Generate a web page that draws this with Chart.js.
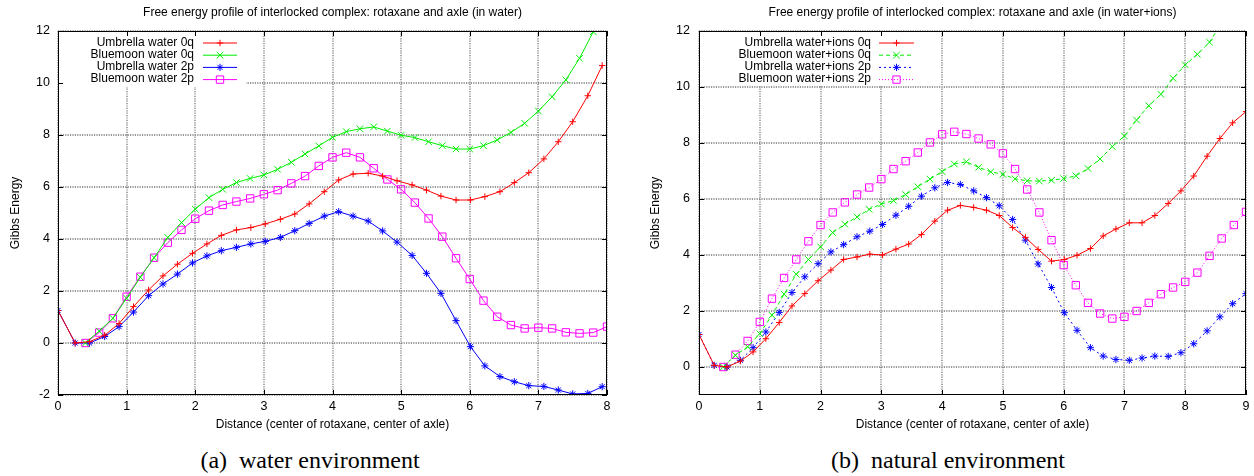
<!DOCTYPE html>
<html>
<head>
<meta charset="utf-8">
<script src="https://cdn.jsdelivr.net/npm/chart.js@4.4.1/dist/chart.umd.min.js"></script>
<style>
  html, body { margin: 0; padding: 0; background: #fff; }
  body { width: 1254px; height: 476px; position: relative; overflow: hidden; }
  canvas { position: absolute; top: 0; }
  #chart-water { left: 0; }
  #chart-ions { left: 620px; }
  .caption {
    position: absolute; top: 447px; transform: translateX(-50%); line-height: 26px;
    font-family: "Liberation Serif", "Times New Roman", serif; font-size: 24px; white-space: pre;
  }
</style>
</head>
<body>
<canvas id="chart-water" width="620" height="440"></canvas>
<canvas id="chart-ions" width="634" height="440"></canvas>
<div class="caption" style="left:310px">(a)  water environment</div>
<div class="caption" style="left:948px">(b)  natural environment</div>
<script>
// ---- data: water (left panel) ----
const waterUmbrellaX = [0, 0.25, 0.46, 0.68, 0.89, 1.10, 1.32, 1.53, 1.74, 1.96, 2.17, 2.38, 2.60, 2.81,
  3.02, 3.24, 3.45, 3.66, 3.88, 4.09, 4.30, 4.52, 4.73, 4.94, 5.16, 5.37, 5.58, 5.80, 6.01, 6.22, 6.44,
  6.65, 6.86, 7.08, 7.29, 7.50, 7.72, 7.93];
const waterBluemoonX = [0.4, 0.6, 0.8, 1.0, 1.2, 1.4, 1.6, 1.8, 2.0, 2.2, 2.4, 2.6, 2.8, 3.0, 3.2, 3.4,
  3.6, 3.8, 4.0, 4.2, 4.4, 4.6, 4.8, 5.0, 5.2, 5.4, 5.6, 5.8, 6.0, 6.2, 6.4, 6.6, 6.8, 7.0, 7.2, 7.4,
  7.6, 7.8, 8.0];
const umbrellaWater0q = [1.25, 0, 0.05, 0.3, 0.75, 1.4, 2.04, 2.58, 3.03, 3.45, 3.81, 4.14, 4.35, 4.44,
  4.58, 4.76, 4.96, 5.35, 5.82, 6.27, 6.5, 6.53, 6.42, 6.24, 6.08, 5.88, 5.65, 5.5, 5.5, 5.63, 5.82,
  6.17, 6.55, 7.08, 7.74, 8.51, 9.51, 10.67];
const bluemoonWater0q = [0, 0.46, 0.95, 1.72, 2.53, 3.28, 4.06, 4.63, 5.15, 5.59, 5.91, 6.17, 6.33, 6.46,
  6.68, 6.95, 7.27, 7.58, 7.91, 8.13, 8.24, 8.31, 8.15, 7.99, 7.9, 7.74, 7.59, 7.46, 7.46, 7.59, 7.81,
  8.1, 8.45, 8.92, 9.47, 10.12, 10.95, 11.97, 13.1];
const umbrellaWater2p = [1.25, 0, 0, 0.25, 0.63, 1.19, 1.82, 2.27, 2.65, 3.08, 3.35, 3.55, 3.68, 3.81,
  3.91, 4.06, 4.32, 4.6, 4.88, 5.05, 4.88, 4.69, 4.31, 3.88, 3.37, 2.68, 1.91, 0.86, -0.14, -0.88, -1.29,
  -1.49, -1.64, -1.67, -1.81, -1.96, -1.94, -1.68];
const bluemoonWater2p = [0, 0.4, 0.95, 1.78, 2.55, 3.28, 3.86, 4.35, 4.78, 5.09, 5.31, 5.44, 5.56, 5.72,
  5.88, 6.14, 6.42, 6.81, 7.14, 7.32, 7.14, 6.72, 6.29, 5.91, 5.4, 4.79, 4.09, 3.26, 2.46, 1.63, 1.01,
  0.69, 0.56, 0.59, 0.56, 0.41, 0.37, 0.4, 0.63];

// ---- data: water+ions (right panel) ----
const ionsUmbrellaX = [0, 0.25, 0.46, 0.68, 0.89, 1.10, 1.32, 1.53, 1.74, 1.96, 2.17, 2.38, 2.60, 2.81,
  3.02, 3.24, 3.45, 3.66, 3.88, 4.09, 4.30, 4.52, 4.73, 4.94, 5.16, 5.37, 5.58, 5.80, 6.01, 6.22, 6.44,
  6.65, 6.86, 7.08, 7.29, 7.50, 7.72, 7.93, 8.14, 8.36, 8.57, 8.78, 9.00];
const ionsBluemoonX = [0.4, 0.6, 0.8, 1.0, 1.2, 1.4, 1.6, 1.8, 2.0, 2.2, 2.4, 2.6, 2.8, 3.0, 3.2, 3.4,
  3.6, 3.8, 4.0, 4.2, 4.4, 4.6, 4.8, 5.0, 5.2, 5.4, 5.6, 5.8, 6.0, 6.2, 6.4, 6.6, 6.8, 7.0, 7.2, 7.4,
  7.6, 7.8, 8.0, 8.2, 8.4, 8.6, 8.8, 9.0];
const umbrellaIons0q = [1.16, 0.06, 0, 0.21, 0.54, 1.01, 1.59, 2.18, 2.62, 3.08, 3.46, 3.84, 3.93, 4.03,
  4.0, 4.21, 4.39, 4.73, 5.21, 5.6, 5.77, 5.7, 5.6, 5.41, 4.98, 4.63, 4.2, 3.78, 3.84, 3.99, 4.23, 4.68,
  4.93, 5.15, 5.15, 5.41, 5.84, 6.29, 6.82, 7.53, 8.16, 8.72, 9.12];
const bluemoonIons0q = [0, 0.42, 0.72, 1.19, 1.85, 2.6, 3.31, 3.84, 4.29, 4.8, 5.1, 5.36, 5.63, 5.82,
  5.94, 6.16, 6.44, 6.71, 6.98, 7.25, 7.33, 7.13, 6.97, 6.88, 6.72, 6.65, 6.64, 6.67, 6.73, 6.83, 7.09,
  7.43, 7.87, 8.25, 8.82, 9.33, 9.74, 10.31, 10.79, 11.17, 11.6, 12.3];
const umbrellaIons2p = [1.16, 0.06, 0, 0.24, 0.69, 1.25, 1.95, 2.66, 3.22, 3.69, 4.11, 4.37, 4.65, 4.85,
  5.09, 5.42, 5.74, 6.1, 6.4, 6.59, 6.52, 6.29, 6.05, 5.76, 5.27, 4.53, 3.68, 2.84, 1.94, 1.31, 0.69,
  0.39, 0.27, 0.24, 0.32, 0.39, 0.38, 0.51, 0.83, 1.29, 1.79, 2.26, 2.62];
const bluemoonIons2p = [0, 0.44, 0.93, 1.61, 2.44, 3.18, 3.84, 4.49, 5.07, 5.52, 5.88, 6.16, 6.41, 6.71,
  7.07, 7.35, 7.66, 8.02, 8.31, 8.4, 8.32, 8.16, 7.95, 7.63, 7.07, 6.34, 5.52, 4.53, 3.64, 2.92, 2.29,
  1.91, 1.73, 1.79, 2.0, 2.29, 2.6, 2.84, 3.04, 3.37, 3.97, 4.59, 5.07, 5.54];

// ---- ticks / labels ----
const waterXTicks = [0, 1, 2, 3, 4, 5, 6, 7, 8];
const waterYTicks = [-2, 0, 2, 4, 6, 8, 10, 12];
const ionsXTicks = [0, 1, 2, 3, 4, 5, 6, 7, 8, 9];
const ionsYTicks = [0, 2, 4, 6, 8, 10, 12];
const waterLabels = ["Umbrella water 0q", "Bluemoon water 0q", "Umbrella water 2p", "Bluemoon water 2p"];
const ionsLabels = ["Umbrella water+ions 0q", "Bluemoon water+ions 0q", "Umbrella water+ions 2p", "Bluemoon water+ions 2p"];

const FONT = '"Liberation Sans", Arial, Helvetica, sans-serif';
Chart.defaults.font.family = FONT;
Chart.defaults.color = "#000";

function pairs(xs, ys) {
  return ys.map((y, i) => ({ x: xs[i], y: y }));
}

// gnuplot-ish series looks: + , x , * , open square
const looks = [
  { color: "#ff0000", pointStyle: "cross", radius: 3.2 },
  { color: "#00ee00", pointStyle: "crossRot", radius: 4.6 },
  { color: "#0000ff", pointStyle: "star", radius: 3.6 },
  { color: "#ff00ff", pointStyle: "rect", radius: 5.2 },
];

function series(label, points, i, dash) {
  const l = looks[i];
  return {
    label: label,
    data: points,
    showLine: true,
    borderColor: l.color,
    backgroundColor: l.color,
    borderWidth: 1,
    borderDash: dash,
    tension: 0,
    pointStyle: l.pointStyle,
    pointRadius: l.radius,
    pointBorderColor: l.color,
    pointBackgroundColor: "rgba(0,0,0,0)",
    pointBorderWidth: 1,
  };
}

// dotted grid, title, border frame, inward ticks and the in-plot key
const decor = {
  id: "decor",
  beforeDatasetsDraw(chart, args, opts) {
    const { ctx, chartArea: a, scales } = chart;
    ctx.save();
    ctx.strokeStyle = "#777";
    ctx.lineWidth = 1.3;
    ctx.setLineDash([1.2, 1.2]);
    ctx.beginPath();
    scales.x.ticks.forEach(t => {
      const px = Math.round(scales.x.getPixelForValue(t.value));
      ctx.moveTo(px, a.top); ctx.lineTo(px, a.bottom);
    });
    scales.y.ticks.forEach(t => {
      const py = Math.round(scales.y.getPixelForValue(t.value));
      ctx.moveTo(a.left, py); ctx.lineTo(a.right, py);
    });
    ctx.stroke();
    ctx.setLineDash([]);
    ctx.fillStyle = "#fff";
    ctx.fillRect(a.left + 1, a.top + 1, opts.boxRight - a.left, opts.boxBottom - a.top);
    ctx.restore();
  },
  afterDatasetsDraw(chart, args, opts) {
    const { ctx, chartArea: a, scales } = chart;
    ctx.save();
    ctx.strokeStyle = "#000";
    ctx.lineWidth = 1;
    ctx.setLineDash([]);
    ctx.beginPath();
    scales.x.ticks.forEach(t => {
      const px = Math.round(scales.x.getPixelForValue(t.value)) + 0.5;
      ctx.moveTo(px, a.bottom); ctx.lineTo(px, a.bottom - 5);
      ctx.moveTo(px, a.top); ctx.lineTo(px, a.top + 5);
    });
    scales.y.ticks.forEach(t => {
      const py = Math.round(scales.y.getPixelForValue(t.value)) + 0.5;
      ctx.moveTo(a.left, py); ctx.lineTo(a.left + 5, py);
      ctx.moveTo(a.right, py); ctx.lineTo(a.right - 5, py);
    });
    ctx.stroke();
    ctx.strokeRect(a.left + 0.5, a.top + 0.5, a.right - a.left - 1, a.bottom - a.top - 1);

    ctx.fillStyle = "#000";
    ctx.font = "12px " + FONT;
    ctx.textAlign = "center";
    ctx.textBaseline = "middle";
    ctx.fillText(opts.title, (a.left + a.right) / 2, 13);

    chart.data.datasets.forEach((ds, i) => {
      const y = opts.keyTop + i * 12.2;
      ctx.fillStyle = "#000";
      ctx.font = "12px " + FONT;
      ctx.textAlign = "right";
      ctx.fillText(ds.label, opts.textRight, y);
      ctx.strokeStyle = ds.borderColor;
      ctx.lineWidth = 1;
      ctx.setLineDash(ds.borderDash || []);
      ctx.beginPath();
      ctx.moveTo(opts.lineFrom, y + 0.5);
      ctx.lineTo(opts.lineTo, y + 0.5);
      ctx.stroke();
      ctx.setLineDash([]);
      ctx.fillStyle = "rgba(0,0,0,0)";
      Chart.helpers.drawPoint(ctx, { pointStyle: ds.pointStyle, radius: ds.pointRadius, borderWidth: 1, rotation: 0 },
        (opts.lineFrom + opts.lineTo) / 2, y + 0.5);
    });
    ctx.restore();
  },
};

function axes(xMax, yMin, xTicks, yTicks, yWidth, yTitlePad, yTickPad) {
  return {
    x: {
      type: "linear", min: 0, max: xMax,
      afterBuildTicks: s => { s.ticks = xTicks.map(v => ({ value: v })); },
      afterFit: s => { s.height = 45; },
      ticks: { font: { size: 12.5 }, padding: 4.5, maxRotation: 0 },
      grid: { display: false, drawTicks: false },
      border: { display: false },
      title: { display: true, text: "Distance (center of rotaxane, center of axle)", font: { size: 12 }, padding: { top: 0, bottom: 7.8 } },
    },
    y: {
      type: "linear", min: yMin, max: 12,
      afterBuildTicks: s => { s.ticks = yTicks.map(v => ({ value: v })); },
      afterFit: s => { s.width = yWidth; },
      ticks: { font: { size: 12.5 }, padding: yTickPad },
      grid: { display: false, drawTicks: false },
      border: { display: false },
      title: { display: true, text: "Gibbs Energy", font: { size: 12 }, padding: { top: yTitlePad, bottom: 0 } },
    },
  };
}

const chartWater = new Chart(document.getElementById("chart-water"), {
  type: "scatter",
  data: {
    datasets: [
      series(waterLabels[0], pairs(waterUmbrellaX, umbrellaWater0q), 0, []),
      series(waterLabels[1], pairs(waterBluemoonX, bluemoonWater0q), 1, []),
      series(waterLabels[2], pairs(waterUmbrellaX, umbrellaWater2p), 2, []),
      series(waterLabels[3], pairs(waterBluemoonX, bluemoonWater2p), 3, []),
    ],
  },
  options: {
    responsive: false,
    animation: false,
    devicePixelRatio: 1,
    events: [],
    layout: { padding: { left: 0, right: 13, top: 31, bottom: 0 } },
    scales: axes(8, -2, waterXTicks, waterYTicks, 58, 8.3, 8),
    plugins: {
      legend: { display: false },
      title: { display: false },
      tooltip: { enabled: false },
      decor: {
        title: "Free energy profile of interlocked complex: rotaxane and axle (in water)",
        keyTop: 42.5, textRight: 194, lineFrom: 203, lineTo: 237, boxRight: 245, boxBottom: 86,
      },
    },
  },
  plugins: [decor],
});

const chartIons = new Chart(document.getElementById("chart-ions"), {
  type: "scatter",
  data: {
    datasets: [
      series(ionsLabels[0], pairs(ionsUmbrellaX, umbrellaIons0q), 0, []),
      series(ionsLabels[1], pairs(ionsBluemoonX, bluemoonIons0q), 1, [4, 3]),
      series(ionsLabels[2], pairs(ionsUmbrellaX, umbrellaIons2p), 2, [2, 3]),
      series(ionsLabels[3], pairs(ionsBluemoonX, bluemoonIons2p), 3, [1, 2]),
    ],
  },
  options: {
    responsive: false,
    animation: false,
    devicePixelRatio: 1,
    events: [],
    layout: { padding: { left: 0, right: 8, top: 31, bottom: 0 } },
    scales: axes(9, -1, ionsXTicks, ionsYTicks, 79, 28.1, 9),
    plugins: {
      legend: { display: false },
      title: { display: false },
      tooltip: { enabled: false },
      decor: {
        title: "Free energy profile of interlocked complex: rotaxane and axle (in water+ions)",
        keyTop: 42.5, textRight: 251, lineFrom: 259, lineTo: 294, boxRight: 298, boxBottom: 85,
      },
    },
  },
  plugins: [decor],
});
</script>
</body>
</html>
